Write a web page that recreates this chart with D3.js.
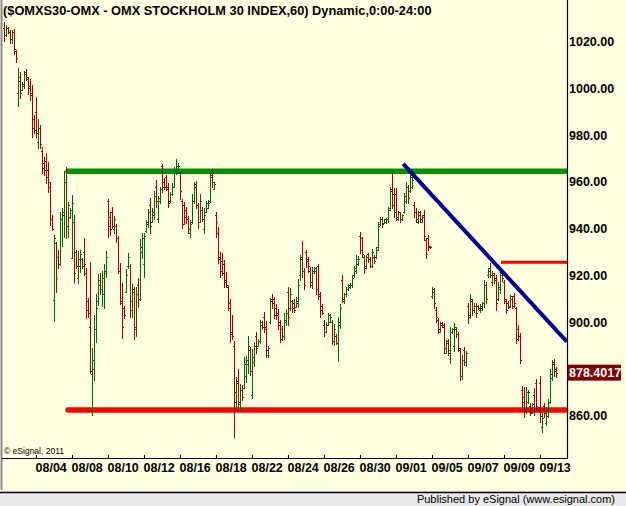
<!DOCTYPE html>
<html>
<head>
<meta charset="utf-8">
<script src="https://cdn.jsdelivr.net/npm/d3@7"></script>
<style>
  body { margin: 0; background: #fff; }
  svg { display: block; font-family: "Liberation Sans", Arial, sans-serif; }
</style>
</head>
<body>
<svg id="chart" width="626" height="506"></svg>
<script>
// OMXS30 hourly bars, 2 Aug - 13 Sep 2011
const highs = [1028.4,1027.1,1026.2,1025,1025,1025.4,1016.4,1008.7,1007,1002.7,1007.4,1008.3,1004.9,1004,1001.4,988.6,996.3,986.9,984.3,974.9,970.6,972.3,968.5,960,945.8,937.3,934.3,930.8,947.1,948.8,964.7,966.4,951.4,948.8,954.4,945.8,930.8,930.4,930.8,927.4,936,923.2,910.3,925.7,889,903,
  912,920.6,921,921.9,924.9,930.4,952.7,947.1,949.2,945.4,942,936.9,925.3,916.7,906.9,922.7,929.6,924.9,916.3,915,915,918.9,935.6,938.1,938.1,943.7,948.4,953.1,948.8,956.1,960.8,954,957.8,967.6,961.7,963,959.5,955.7,959.5,966.4,969.8,968.1,964.2,952.7,951.4,949.2,945.4,
  943.7,954.8,960,960.4,951,954.8,949.2,948.8,951.8,952.2,964.7,965.5,960,947.1,940.7,930,929.6,926.6,921.4,915.9,909.9,903.1,891.9,876.5,879.9,873.5,873,885.1,885.5,894,889.4,888.5,891.5,895.8,892.8,900.9,900.5,904.3,900.5,889.8,910.3,912,910.7,907.7,905.6,900.9,898.4,
  903.9,905.6,915,914.6,909.5,909.9,910.7,918.5,928.7,934.7,923.2,930.8,927.9,923.6,923.6,923.6,923.6,924.9,912.9,907.7,900.9,900,903.9,903.5,900.9,899.2,894.9,902.2,907.7,920.2,912.5,915,916.3,916.7,920.2,924,928.7,928.3,938.6,936.4,928.7,928.7,929.6,927.9,931.3,928.7,932.1,
  942.8,945,945,944.1,944.5,949.2,957.8,963.8,957.4,957.4,947.5,947.1,946.3,955.2,960,958.7,963.8,962.5,951.4,948.8,947.5,947.5,945.8,948,936,937.3,932.6,915,914.6,906.5,901.8,900,900,899.6,892.3,892.8,897.9,897.5,899.6,897.9,895.8,888.9,885.9,889.4,887.7,908.2,912,
  909.9,908.2,908.2,907.3,907.7,908.6,918,917.2,923.2,925.3,921.9,921,920.2,917.2,921.4,921.9,918,909.9,909,911.6,911.2,912.5,906.5,898.8,895.4,872.7,872.2,872.2,870.9,865.4,865.4,871.8,875.7,863.7,876.9,861.1,865.4,863.7,867.1,880,883.8,884.2,880.8];
const lows = [1020.3,1022.4,1023.7,1019.4,1019.4,1014.7,1011.3,992.5,995.9,999.3,1000.2,1003.6,997.6,995,979.2,980.9,978.8,974.5,974.5,963.8,963,959.5,955.7,941.5,939.4,900.5,912.9,923.2,924.5,932.6,936.4,936,936.4,944.5,927.4,917.2,923.2,916.7,921.4,923.2,920.2,901.8,902.2,878.2,860.3,875.2,
  891.5,907.3,912,906.9,906,919.3,936.4,937.3,940.3,938.1,934.3,921,907.7,893.2,901.8,912.9,923.2,902.2,902.2,892.8,894.1,906.5,909.5,927.4,919.3,938.6,940.7,938.1,942.8,944.1,949.3,942.8,951,955.7,956.9,956.5,949.3,951.4,954.4,957.8,963.4,963.8,952.7,940.3,942,942.4,938.1,
  936.4,942.4,951,948.8,940.3,942.8,943.3,938.1,947.1,948.8,951.4,957.8,957,936.4,925.3,919.3,920.2,915,915,905.2,891.5,892.8,850.9,862.8,863.7,862,866.7,871.8,874.4,878.2,877.4,867.5,881.2,886.8,889.8,891.1,897.1,895.8,885.1,885.1,899.6,906,901.8,901.3,897.1,891.5,892.3,
  892.8,898.8,898.8,905.2,904.3,904.3,906.5,906.5,918,919.3,914.2,923.6,921.4,915,914.6,921,912,909.9,902.2,903.5,894.1,895.8,898.8,900,890.6,890.2,890.6,883.4,897.5,908.6,908.2,911.2,913.7,914.6,915,919.3,921,924.5,929.6,927.9,921,923.2,925.7,923.6,923.6,925.3,927.4,
  930.8,941.5,940.7,942.4,942.4,942.8,948,948.8,945,943.7,943.7,942.8,943.7,946.7,951,951,955.7,957.4,945,942.8,942.4,942.8,942.8,935.1,927.4,930.8,931.7,910.3,906,900,895.4,895.8,897.9,886.8,886.8,885.9,882.5,895.4,887.7,893.6,887.7,875.2,875.7,881.7,881.2,899.6,901.8,
  903.1,904.3,902.2,905.6,904.3,905.2,906.5,908.2,919.3,919.3,915.9,916.7,905.2,909.5,912.5,917.6,908.2,903.9,906,906.5,906,906.5,891.1,892.3,882.5,863.7,859.4,861.1,865.4,860.3,861.1,860.3,862.8,862.4,857.3,853,859.4,856,859.4,865.4,875.2,877,876.5];
const opens = [1026,1023,1026,1024,1021,1024,1016,998,1005,999.5,1001,1007,1004,1001,998,987,990,977,983,973,968,969,965,958,944,909.5,934,928,925,944,946,960,941,945,927.5,943,930,919,924,927,930,921,909,898,878,880,
  897,909,918,914,912,921,952,945,947,940,941,936,922,908,906,913,924,924,905,913,897,916,910,930,925,939,942,950,943,946,958,944,952,967,960,962,958,952,955,958,964,964,964,952,950,948,944,
  938,943,952,959,950,943,948,940,947,949,952,963,957,946,938,928,926,925,918,915,908,896,890,866,875,865,871,872,877,882,888,869,883,894,890,892,900,902,898,886,900,910,910,906,904,900,897,
  894,900,913,906,909,908,906.5,908,920,927,922,930,927,922,916,921,922,924,911,907,899,896,899,900,900,892,894,891,899,918,909,912,914,915,916,920,922,925,937,936,928,924,929,927,924,928,928,
  932,942,944,942.5,943,944,949,957,955,955,944,947,944,947,952,958,956,958,950,947,943,946,943,946,935,936,932.5,911,913,905,901,896,899.5,899,887,892,888,896,890,897,895,888,877,888,883,907,903,
  909,905,907,907,905,906,908,916,920,923,917,920,919,910,914,921,917,909,908,907,910,911,906,897,894,871,868,862,866,864,861.5,869,874,863.5,874,855,864,857,860,866,876,883,880];
const closes = [1023,1026,1024,1021,1024,1017,1013,1003,998,1002,1006,1005,1000,997,983,982,981,983,976,966,965,962,960,944,940,936,919,925,944,947,960,941,950,948,951,921,924,927,929,924,925,905,904,879,884,897,
  906,916,914,919,922,928,941,940,941,944,936,922,909,898,903,920,928,909,914,898,912,910,932,936,937,943,947,941,947,954,952,953,957,958,958,957,951,955,958,965,967,967,956,942,945,944,940,
  942,952,958,950,943,952,944,946,951,951,962,960,959,943,927,922,921,917,916,906,895,894,870,874,866,871,868,882,884,890,879,885,890,889,892,899,898,897,888,889,909,908,903,903,899,893,894,
  901,904,902,912,906,905,909,916,928,922,916,926,924,917,922,923,914,912,905,904,896,899,903,902,892,897,891,900,906,910,912,914,916,916,919,923,927,927,931,929,923,928,927,924,930,926,931,
  941,944,942,944,944,948,956,950,947,945,947,944,946,954,958,953,962,961,947,944,947,944,945,937,929,932,932,914,908,902,897,899,898,889,891,887,896,897,898,895,889,877,884,883,887,902,910,
  905,907,904,906,907,908,916,910,922,920,921,918,908,915,920,919,910,905,906.5,911,907,908,893,894,884,866,863,870,870,861,865,862,864,862.5,860,859,861,862,866,878,882,879,878.4017];

// first bar of each labelled day (bar index) and its label
const tickBars = [16,34,52,70,88,106,124,142,160,178,196,214,232,250,268];
const tickLabels = ['08/04','08/08','08/10','08/12','08/16','08/18','08/22','08/24','08/26','08/30','09/01','09/05','09/07','09/09','09/13'];
// 880.00 sits under the last-price marker, so it is not shown
const priceTicks = [860,900,920,940,960,980,1000,1020];

// drawn study lines: [startBar, endBar, startPrice, endPrice]
const resistance = [32, 281.75, 964.5, 964.5];
const support = [32, 281.75, 862.4, 862.4];
const shortLevel = [248.5, 281.75, 925.6, 925.6];
const trendLine = [199.6, 281.4, 967.7, 891.7];

const W = 626, H = 506;
const plotRight = 567.5, plotBottom = 458;

const svg = d3.select('#chart');
const x = d3.scaleLinear().domain([-2, 281.75]).range([0, plotRight]);
const y = d3.scaleLinear().domain([841.9, 1037.8]).range([plotBottom, 0]);

// background / frame
svg.append('rect').attr('width', W).attr('height', 491).attr('fill', '#ffffe1');
svg.append('rect').attr('x', 0).attr('y', 491).attr('width', W).attr('height', H - 491).attr('fill', '#e9e9e9');
svg.append('line').attr('x1', 0).attr('x2', W).attr('y1', 490.5).attr('y2', 490.5).attr('stroke', '#ffffff');
svg.append('line').attr('x1', 0).attr('x2', W).attr('y1', 492.5).attr('y2', 492.5).attr('stroke', '#000').attr('stroke-width', 1.5);
svg.append('line').attr('x1', 1.5).attr('x2', 1.5).attr('y1', 0).attr('y2', 490).attr('stroke', '#8a8a8a').attr('stroke-width', 2);

svg.append('defs').append('clipPath').attr('id', 'plot')
  .append('rect').attr('x', 2).attr('y', 0).attr('width', plotRight - 2).attr('height', plotBottom);

const g = svg.append('g').attr('clip-path', 'url(#plot)');

function study(d, color, width, cap) {
  g.append('line')
    .attr('x1', x(d[0])).attr('x2', x(d[1]))
    .attr('y1', y(d[2])).attr('y2', y(d[3]))
    .attr('stroke', color).attr('stroke-width', width)
    .attr('stroke-linecap', cap);
}
study(resistance, '#009100', 5.5, 'round');
study(support, '#ff0000', 5.5, 'round');
study(shortLevel, '#ff0000', 3, 'butt');

// OHLC bars
const bars = d3.range(highs.length);
g.selectAll('path.bar').data(bars).enter().append('path')
  .attr('class', 'bar')
  .attr('shape-rendering', 'crispEdges')
  .attr('fill', 'none')
  .attr('stroke-width', 1)
  .attr('stroke', i => closes[i] >= opens[i] ? '#006400' : '#990000')
  .attr('d', i => {
    const px = Math.round(x(i)) + 0.5;
    const yo = Math.round(y(opens[i])) + 0.5, yc = Math.round(y(closes[i])) + 0.5;
    return `M${px},${Math.round(y(highs[i]))}V${Math.round(y(lows[i])) + 1}` +
      `M${px - 1.5},${yo}H${px}M${px},${yc}H${px + 1.5}`;
  });

study(trendLine, '#000090', 4, 'butt');

// axes
svg.append('line').attr('x1', plotRight).attr('x2', plotRight).attr('y1', 0).attr('y2', plotBottom + 1)
  .attr('stroke', '#000').attr('stroke-width', 1.2);
svg.append('line').attr('x1', 2).attr('x2', plotRight).attr('y1', plotBottom + 0.5).attr('y2', plotBottom + 0.5)
  .attr('stroke', '#000').attr('stroke-width', 1.2);

const xAxis = svg.append('g').attr('transform', `translate(0,${plotBottom})`)
  .call(d3.axisBottom(x).tickValues(tickBars).tickSize(-3).tickSizeOuter(0)
    .tickFormat((d, i) => tickLabels[i]));
xAxis.select('.domain').remove();
xAxis.selectAll('line').attr('stroke', '#000');
xAxis.selectAll('text')
  .attr('text-anchor', 'start').attr('x', -1).attr('y', 14).attr('dy', 0)
  .attr('fill', '#000').style('font-size', '12.5px').style('font-weight', 'bold')
  .style('font-family', '"Liberation Sans", Arial, sans-serif');

const yAxis = svg.append('g').attr('transform', `translate(${plotRight},0)`)
  .call(d3.axisRight(y).tickValues(priceTicks).tickSize(0).tickPadding(1.5).tickFormat(d3.format('.2f')));
yAxis.select('.domain').remove();
yAxis.selectAll('text')
  .attr('fill', '#000').style('font-size', '12.5px').style('font-weight', 'bold')
  .style('font-family', '"Liberation Sans", Arial, sans-serif');

// last price marker
const last = closes[closes.length - 1];
svg.append('rect').attr('x', plotRight).attr('y', y(last) - 8).attr('width', 53.5).attr('height', 16)
  .attr('fill', '#800000');
svg.append('text').attr('x', plotRight + 1.5).attr('y', y(last)).attr('dy', '0.35em')
  .attr('fill', '#fff').style('font-size', '12.5px').style('font-weight', 'bold')
  .text(d3.format('.4f')(last));

// texts
svg.append('text').attr('x', 3).attr('y', 14.5)
  .style('font-size', '12.8px').style('font-weight', 'bold')
  .text('($OMXS30-OMX - OMX STOCKHOLM 30 INDEX,60) Dynamic,0:00-24:00');
svg.append('text').attr('x', 4).attr('y', 454)
  .style('font-size', '8.5px')
  .text('\u00a9 eSignal, 2011');
svg.append('text').attr('x', 615).attr('y', 502.5).attr('text-anchor', 'end')
  .style('font-size', '11px')
  .text('Published by eSignal (www.esignal.com)');
</script>
</body>
</html>
